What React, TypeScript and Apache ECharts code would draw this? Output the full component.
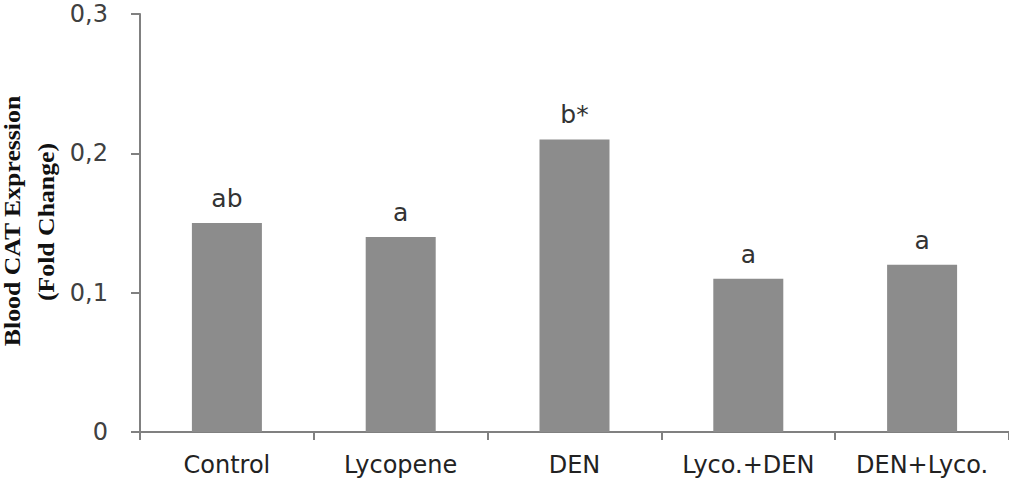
import React, { useEffect, useRef } from "react";
import * as echarts from "echarts";

const categories = ["Control", "Lycopene", "DEN", "Lyco.+DEN", "DEN+Lyco."];
const values = [0.15, 0.14, 0.21, 0.11, 0.12];
const letters = ["ab", "a", "b*", "a", "a"];
const yTitle1 = "Blood CAT Expression";
const yTitle2 = "(Fold Change)";

export default function App() {
  const ref = useRef<HTMLDivElement>(null);
  useEffect(() => {
    document.body.style.margin = "0";
    const chart = echarts.init(ref.current!, null, { renderer: "svg" });
    chart.setOption({
      animation: false,
      backgroundColor: "#ffffff",
      grid: { left: 140, right: -8.5, top: 14, bottom: 55 },
      xAxis: {
        type: "category",
        data: categories,
        axisLine: { lineStyle: { color: "#808080", width: 2 } },
        axisTick: { show: true, interval: 0, length: 8, lineStyle: { color: "#808080", width: 2 } },
        axisLabel: {
          interval: 0,
          hideOverlap: false,
          margin: 21,
          fontFamily: "DejaVu Sans",
          fontSize: 24,
          color: "#222222",
        },
      },
      yAxis: {
        type: "value",
        min: 0,
        max: 0.3,
        interval: 0.1,
        splitLine: { show: false },
        axisLine: { show: true, lineStyle: { color: "#808080", width: 2 } },
        axisTick: { show: true, length: 9, lineStyle: { color: "#808080", width: 2 } },
        axisLabel: {
          margin: 32,
          fontFamily: "DejaVu Sans",
          fontSize: 24,
          color: "#404040",
          formatter: (v: number) => (v === 0 ? "0" : v.toFixed(1).replace(".", ",")),
        },
      },
      series: [
        {
          type: "bar",
          data: values.map((v, i) => ({ value: v, letter: letters[i] })),
          barWidth: 70,
          itemStyle: { color: "#8c8c8c" },
          label: {
            show: true,
            position: "top",
            distance: 12,
            fontFamily: "DejaVu Sans",
            fontSize: 25,
            color: "#333333",
            formatter: (p: any) => letters[p.dataIndex],
          },
        },
      ],
      graphic: [
        {
          type: "text",
          x: 12,
          y: 221,
          rotation: Math.PI / 2,
          scaleX: 1.12,
          style: {
            text: yTitle1,
            fontFamily: "Liberation Serif",
            fontWeight: "bold",
            fontSize: 23,
            fill: "#111111",
            textAlign: "center",
            textVerticalAlign: "middle",
          },
        },
        {
          type: "text",
          x: 46,
          y: 222,
          rotation: Math.PI / 2,
          scaleX: 1.12,
          style: {
            text: yTitle2,
            fontFamily: "Liberation Serif",
            fontWeight: "bold",
            fontSize: 23,
            fill: "#111111",
            textAlign: "center",
            textVerticalAlign: "middle",
          },
        },
      ],
    });
    return () => chart.dispose();
  }, []);
  return (
    <div
      ref={ref}
      style={{ position: "absolute", left: 0, top: 0, width: 1009, height: 487 }}
    />
  );
}
